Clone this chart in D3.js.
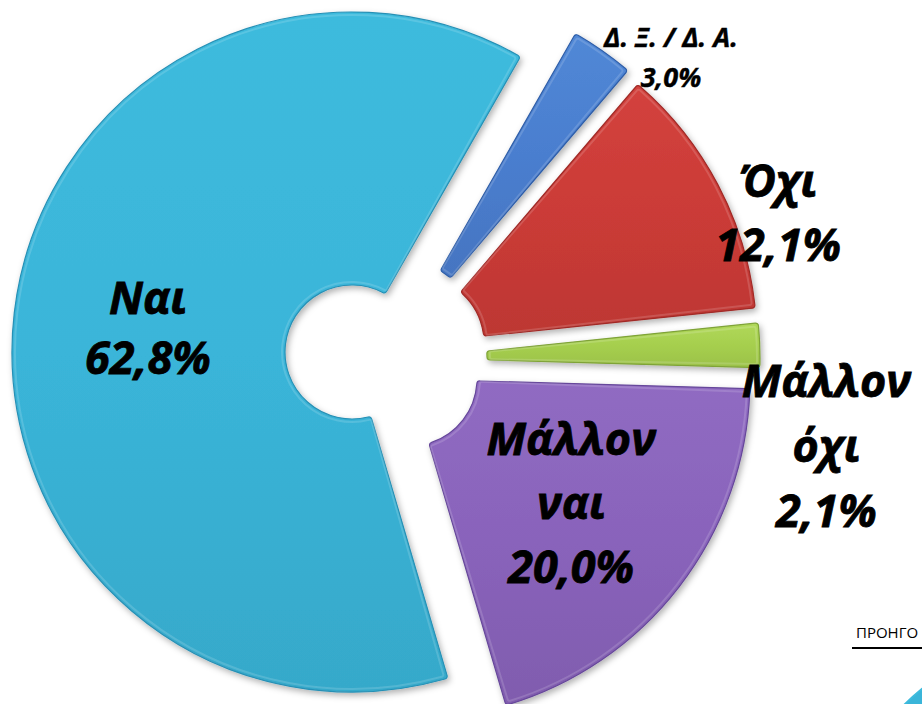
<!DOCTYPE html>
<html>
<head>
<meta charset="utf-8">
<script src="https://cdn.jsdelivr.net/npm/d3@7"></script>
<style>
  html, body { margin: 0; padding: 0; background: #ffffff; overflow: hidden; }
  svg { display: block; }
  text { font-family: "Open Sans", "Noto Sans", sans-serif; }
</style>
</head>
<body>
<svg id="chart" width="922" height="704"></svg>
<script>
// ---- data ----
const categories = ["Δ. Ξ. / Δ. Α.", "Όχι", "Μάλλον όχι", "Μάλλον ναι", "Ναι"];
const values = [3.0, 12.1, 2.1, 20.0, 62.8];
const labelLines = [
  ["Δ. Ξ. / Δ. Α.", "3,0%"],
  ["Όχι", "12,1%"],
  ["Μάλλον", "όχι", "2,1%"],
  ["Μάλλον", "ναι", "20,0%"],
  ["Ναι", "62,8%"]
];
const footnote = "ΠΡΟΗΓΟ";

// ---- layout / style ----
const colors = ["#4a7ecf", "#cb3b37", "#a6cf4e", "#8963bb", "#3ab5d9"];
const colorsDark = ["#2f5ea8", "#a02a27", "#7fa338", "#66479a", "#2690b5"];
const colorsLight = ["#5188d6", "#d3423d", "#b0d859", "#906bc2", "#3ebbdd"];
const baseCenter = [352, 352];
// per-slice explosion shift (px) from the common centre
const explode = [[55, -23], [65, -9], [68, 6], [58, 27], [0, 0]];
// label offset from slice centroid (px)
const labelShift = [[147, -105], [181, -35], [203, 96], [0, 0], [-2, 0]];
const labelSize = [27, 45, 45, 45, 45];
const labelLineH = [40, 64, 65, 64, 60];
const innerR = 67, outerR = 340;
const startDeg = 29.7;

const svg = d3.select("#chart");
const defs = svg.append("defs");

const shadow = defs.append("filter").attr("id", "shadow")
  .attr("x", "-20%").attr("y", "-20%").attr("width", "140%").attr("height", "140%");
shadow.append("feDropShadow").attr("dx", 2).attr("dy", 3).attr("stdDeviation", 3)
  .attr("flood-color", "#000").attr("flood-opacity", 0.3);

categories.forEach((c, i) => {
  const g = defs.append("linearGradient").attr("id", "grad" + i)
    .attr("x1", 0).attr("y1", 0).attr("x2", 0).attr("y2", 1);
  g.append("stop").attr("offset", "0%").attr("stop-color", colorsLight[i]);
  g.append("stop").attr("offset", "50%").attr("stop-color", colors[i]);
  g.append("stop").attr("offset", "100%").attr("stop-color", d3.color(colors[i]).darker(0.2));
});

const data = categories.map((c, i) => ({ name: c, value: values[i], idx: i }));

const pie = d3.pie().sort(null).value(d => d.value)
  .startAngle(startDeg * Math.PI / 180)
  .endAngle(startDeg * Math.PI / 180 + 2 * Math.PI);
const arcs = pie(data);

const arc = d3.arc().innerRadius(innerR).outerRadius(outerR).cornerRadius(3);

// decorative edge of neighbouring chart at bottom-right
svg.append("circle").attr("cx", 1100).attr("cy", 905).attr("r", 280)
  .attr("fill", colors[4]).attr("stroke", colorsLight[4]).attr("stroke-width", 2);

const slices = svg.append("g").selectAll("g.slice").data(arcs).join("g")
  .attr("class", "slice")
  .attr("transform", d => `translate(${baseCenter[0] + explode[d.data.idx][0]},${baseCenter[1] + explode[d.data.idx][1]})`);

slices.append("path")
  .attr("d", arc)
  .attr("fill", d => `url(#grad${d.data.idx})`)
  .attr("stroke", d => colorsDark[d.data.idx])
  .attr("stroke-width", 1.2)
  .attr("filter", "url(#shadow)");

// inner highlight rim
const rimArc = d3.arc().innerRadius(innerR + 3).outerRadius(outerR - 3).cornerRadius(2);
slices.append("path")
  .attr("d", d => {
    const span = d.endAngle - d.startAngle;
    const pad = Math.min(0.01, span * 0.1);
    return rimArc({ startAngle: d.startAngle + pad, endAngle: d.endAngle - pad });
  })
  .attr("fill", "none")
  .attr("stroke", "#ffffff")
  .attr("stroke-opacity", 0.15)
  .attr("stroke-width", 2);

// labels
const labels = svg.append("g");
arcs.forEach(d => {
  const i = d.data.idx;
  const c = arc.centroid(d);
  const cx = baseCenter[0] + explode[i][0] + c[0] + labelShift[i][0];
  const cy = baseCenter[1] + explode[i][1] + c[1] + labelShift[i][1];
  const lines = labelLines[i];
  const fs = labelSize[i], lh = labelLineH[i];
  const firstBase = cy - (lines.length - 1) * lh / 2 + fs * 0.69 / 2;
  const t = labels.append("text")
    .attr("text-anchor", "middle")
    .attr("font-size", fs)
    .attr("font-weight", 700)
    .attr("font-style", "italic")
    .attr("fill", "#000")
    .attr("stroke", "#000")
    .attr("stroke-width", fs > 30 ? 0.8 : 0.4);
  lines.forEach((ln, k) => {
    t.append("tspan").attr("x", cx).attr("y", firstBase + k * lh).text(ln);
  });
});

// footnote (at the right edge of the frame)
svg.append("text").attr("x", 856).attr("y", 638)
  .attr("font-size", 15).attr("fill", "#000")
  .attr("font-family", "Open Sans, sans-serif")
  .text(footnote);
svg.append("line").attr("x1", 852).attr("x2", 922).attr("y1", 648).attr("y2", 648)
  .attr("stroke", "#000").attr("stroke-width", 2);
</script>
</body>
</html>
